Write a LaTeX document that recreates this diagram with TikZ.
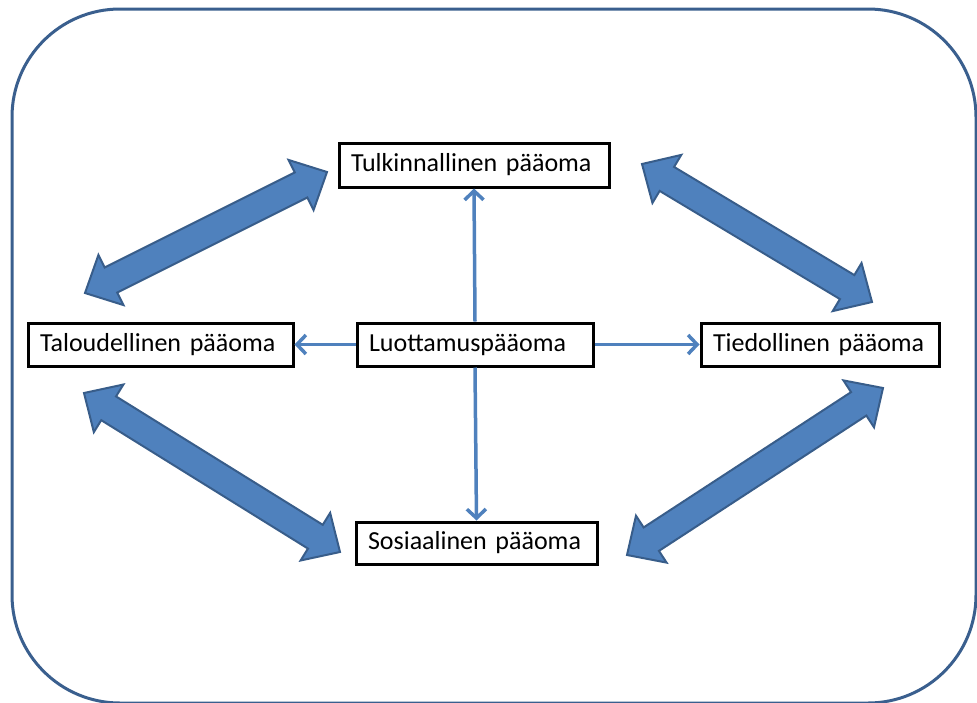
\documentclass[tikz,border=0pt]{standalone}
\usepackage{fontspec}
\setmainfont{Carlito}
\usetikzlibrary{calc,arrows.meta}

\definecolor{fillblue}{HTML}{4F81BD}
\definecolor{edgeblue}{HTML}{385D8A}
\definecolor{framecol}{HTML}{3A5F8E}

% Double-headed block arrow between two named coordinates
\newcommand\fatarrow[2]{%
  \filldraw[bigarrow] (#1)
    -- ($(#1)!29pt!(#2)!28pt!90:(#2)$)
    -- ($(#1)!29pt!(#2)!14pt!90:(#2)$)
    -- ($(#2)!29pt!(#1)!14pt!270:(#1)$)
    -- ($(#2)!29pt!(#1)!28pt!270:(#1)$)
    -- (#2)
    -- ($(#2)!29pt!(#1)!28pt!90:(#1)$)
    -- ($(#2)!29pt!(#1)!14pt!90:(#1)$)
    -- ($(#1)!29pt!(#2)!14pt!270:(#2)$)
    -- ($(#1)!29pt!(#2)!28pt!270:(#2)$)
    -- cycle;}

\begin{document}
\begin{tikzpicture}[x=1pt,y=-1pt,
  frame/.style={draw=framecol, line width=3pt, rounded corners=108pt},
  box/.style={draw=black, line width=3pt, fill=white, inner ysep=0pt,
    inner xsep=12pt, align=left, font=\fontsize{26}{30}\selectfont},
  link/.style={draw=fillblue, line width=3.5pt,
    -{Straight Barb[length=9pt,width=19pt,line width=3.5pt]}},
  bigarrow/.style={fill=fillblue, draw=edgeblue, line width=2pt, line join=miter}]
\useasboundingbox (0,0) rectangle (977,702);

% outer rounded frame
\draw[frame] (12,9) rectangle (976,703);

% capital boxes
\node[box, text width=246pt, minimum height=44pt] (tulk) at (474,165) {Tulkinnallinen pääoma};
\node[box, text width=241pt, minimum height=43pt] (talo) at (160.5,344.5) {Taloudellinen pääoma};
\node[box, text width=212pt, minimum height=43pt] (luot) at (475,344.5) {Luottamuspääoma};
\node[box, text width=214pt, minimum height=43pt] (tied) at (820,344.5) {Tiedollinen pääoma};
\node[box, text width=217pt, minimum height=42pt] (sos) at (476.5,543) {Sosiaalinen pääoma};

% thin arrows from the centre box
\draw[link] (luot.north) -- (tulk.south);
\draw[link] (luot.south) -- (sos.north);
\draw[link] (luot.west) -- (talo.east);
\draw[link] (luot.east) -- (tied.west);

% block arrow ends
\coordinate (tla) at (85,293);   \coordinate (tlb) at (327,172);
\coordinate (tra) at (642,164);  \coordinate (trb) at (872,302);
\coordinate (bla) at (84,393);   \coordinate (blb) at (340,552);
\coordinate (bra) at (627,555);  \coordinate (brb) at (883,388);

\fatarrow{tla}{tlb}
\fatarrow{tra}{trb}
\fatarrow{bla}{blb}
\fatarrow{bra}{brb}
\end{tikzpicture}
\end{document}
